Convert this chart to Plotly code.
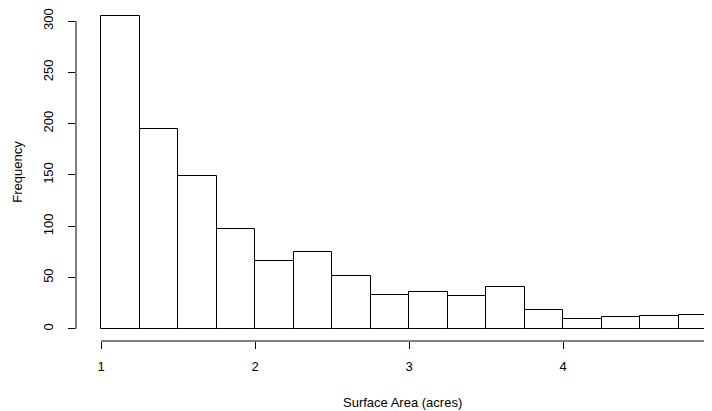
import plotly.graph_objects as go

bin_starts = [1.0, 1.25, 1.5, 1.75, 2.0, 2.25, 2.5, 2.75, 3.0, 3.25, 3.5, 3.75, 4.0, 4.25, 4.5, 4.75]
bin_width = 0.25
counts = [305, 195, 149, 97, 66, 75, 52, 33, 36, 32, 41, 18, 10, 12, 13, 14]
x_ticks = [1, 2, 3, 4, 5]
y_ticks = [0, 50, 100, 150, 200, 250, 300]

centers = [s + bin_width / 2 for s in bin_starts]

# page is drawn with an 8px body margin, so the figure is 704x403
W, H = 704, 403
L, R, T, B = 68, 0, 0, 70
px_per_x = 154.0
px_per_y = 1.0263
plot_w = W - L - R
plot_h = H - T - B
x_min = 1 - (L + 8 - 101) * -1 / px_per_x if False else 1 - (101 - (L + 8)) / px_per_x
x_max = x_min + plot_w / px_per_x
zero_page = 328.9
y_min = -((H + 8 - B) - zero_page) / px_per_y
y_max = (zero_page - (T + 8)) / px_per_y

fig = go.Figure()
fig.add_trace(go.Bar(
    x=centers, y=counts, width=[bin_width] * len(counts),
    marker=dict(color="white", line=dict(color="black", width=1)),
    showlegend=False,
))

font = dict(family="Liberation Sans, Arial, sans-serif", size=13, color="black")

# axis lines spanning only the tick range (R style)
fig.add_shape(type="line", xref="paper", yref="y", x0=0, x1=0, y0=0, y1=300,
              line=dict(color="black", width=1))
fig.add_shape(type="line", xref="x", yref="paper", x0=1, x1=5, y0=0, y1=0,
              line=dict(color="black", width=1))

fig.add_annotation(text="Surface Area (acres)", xref="paper", yref="paper",
                   x=(394.7 - L) / plot_w, y=0, yshift=-(394.7 - (H - B)),
                   xanchor="center", yanchor="middle", showarrow=False, font=font)
fig.add_annotation(text="Frequency", xref="paper", yref="paper",
                   x=0, xshift=8.7 - L, y=(H - B - 164) / plot_h,
                   yanchor="middle", xanchor="center",
                   textangle=-90, showarrow=False, font=font)

fig.update_layout(
    width=W, height=H,
    margin=dict(l=L, r=R, t=T, b=B, autoexpand=False),
    paper_bgcolor="white", plot_bgcolor="white",
    font=font,
    bargap=0,
    xaxis=dict(range=[x_min, x_max], tickvals=x_ticks,
               ticktext=[str(v) for v in x_ticks],
               ticks="outside", ticklen=7, tickcolor="black", tickwidth=1,
               tickfont=font, ticklabelstandoff=6, automargin=False,
               showline=False, showgrid=False, zeroline=False),
    yaxis=dict(range=[y_min, y_max], tickvals=y_ticks,
               ticks="outside", ticklen=7, tickcolor="black", tickwidth=1,
               tickangle=-90, tickfont=font, ticklabelstandoff=10, automargin=False,
               showline=False, showgrid=False, zeroline=False),
)

fig.write_html("out.html")
